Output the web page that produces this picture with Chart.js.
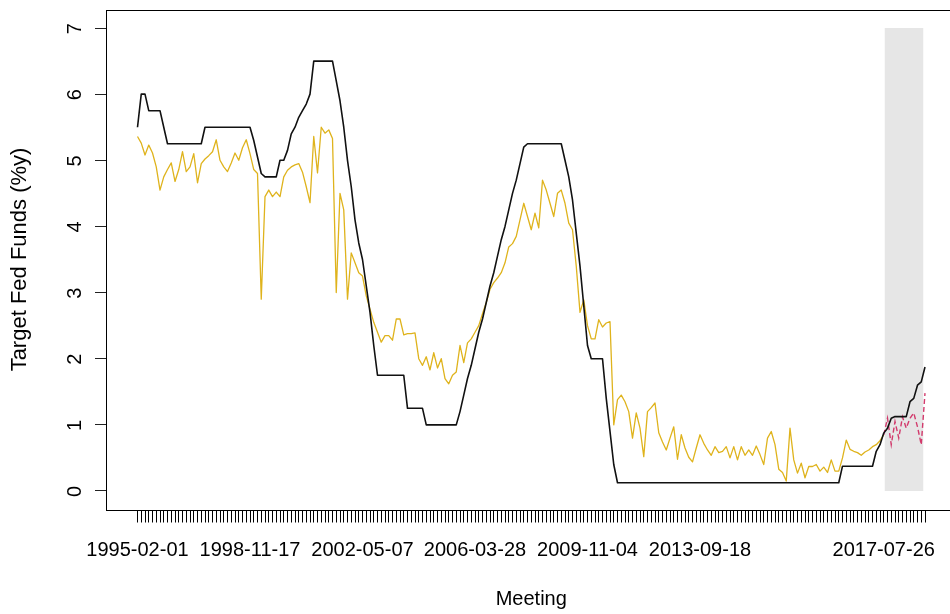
<!DOCTYPE html>
<html>
<head>
  <meta charset="UTF-8">
  <title>Target Fed Funds</title>
  <script src="https://cdn.jsdelivr.net/npm/chart.js"></script>
  <style>
    html, body { margin: 0; padding: 0; background: #fff; overflow: hidden; }
    #caja { width: 960px; height: 614px; }
  </style>
</head>
<body>
  <div id="caja"><canvas id="grafico"></canvas></div>

  <script>
    // tasa objetivo (linea negra), una por reunion
    const objetivo = [
      5.5, 6.0, 6.0, 5.75, 5.75, 5.75, 5.75, 5.5, 5.25,
      5.25, 5.25, 5.25, 5.25, 5.25, 5.25, 5.25, 5.25, 5.25,
      5.5, 5.5, 5.5, 5.5, 5.5, 5.5, 5.5, 5.5, 5.5, 5.5, 5.5, 5.5, 5.5,
      5.3, 5.05, 4.8, 4.75, 4.75, 4.75, 4.75,
      5.0, 5.0, 5.15, 5.4, 5.5, 5.65, 5.75, 5.85, 6.0,
      6.5, 6.5, 6.5, 6.5, 6.5, 6.5,
      6.2, 5.9, 5.5, 5.0, 4.6, 4.1, 3.75, 3.5, 3.1, 2.7, 2.2,
      1.75, 1.75, 1.75, 1.75, 1.75, 1.75, 1.75, 1.75,
      1.25, 1.25, 1.25, 1.25, 1.25,
      1.0, 1.0, 1.0, 1.0, 1.0, 1.0, 1.0, 1.0, 1.0,
      1.2, 1.45, 1.7, 1.9, 2.15, 2.4, 2.6, 2.85, 3.1, 3.3, 3.55, 3.8, 4.0, 4.25, 4.5, 4.7, 4.95, 5.2,
      5.25, 5.25, 5.25, 5.25, 5.25, 5.25, 5.25, 5.25, 5.25, 5.25,
      5.0, 4.75, 4.4, 3.9, 3.4, 2.8, 2.2,
      2.0, 2.0, 2.0, 2.0,
      1.4, 0.9, 0.4,
      0.125, 0.125, 0.125, 0.125, 0.125, 0.125, 0.125, 0.125, 0.125, 0.125,
      0.125, 0.125, 0.125, 0.125, 0.125, 0.125, 0.125, 0.125, 0.125, 0.125,
      0.125, 0.125, 0.125, 0.125, 0.125, 0.125, 0.125, 0.125, 0.125, 0.125,
      0.125, 0.125, 0.125, 0.125, 0.125, 0.125, 0.125, 0.125, 0.125, 0.125,
      0.125, 0.125, 0.125, 0.125, 0.125, 0.125, 0.125, 0.125, 0.125, 0.125,
      0.125, 0.125, 0.125, 0.125, 0.125, 0.125, 0.125, 0.125, 0.125, 0.125,
      0.375, 0.375, 0.375, 0.375, 0.375, 0.375, 0.375, 0.375, 0.375,
      0.6, 0.7, 0.875, 0.95, 1.1,
      1.125, 1.125, 1.125, 1.125,
      1.35, 1.4, 1.6, 1.65, 1.875
    ];

    // estimacion del modelo (linea amarilla)
    const estimado = [
      5.36, 5.26, 5.08, 5.23, 5.11, 4.9, 4.55, 4.75, 4.86, 4.96,
      4.68, 4.86, 5.13, 4.83, 4.9, 5.1, 4.66, 4.95, 5.02, 5.07,
      5.13, 5.31, 5.0, 4.9, 4.83, 4.96, 5.11, 5.0, 5.19, 5.31,
      5.1, 4.86, 4.8, 2.9, 4.45, 4.55, 4.45, 4.52, 4.45, 4.75,
      4.85, 4.9, 4.93, 4.95, 4.82, 4.6, 4.36, 5.36, 4.81, 5.5,
      5.41, 5.46, 5.33, 3.0, 4.5, 4.25, 2.9, 3.6, 3.45, 3.3,
      3.25, 2.95, 2.75, 2.55, 2.4, 2.25, 2.35, 2.35, 2.28, 2.6,
      2.6, 2.36, 2.38, 2.38, 2.39, 2.0, 1.9, 2.03, 1.83, 2.09,
      1.86, 2.0, 1.7, 1.62, 1.75, 1.8, 2.2, 1.94, 2.24, 2.3,
      2.4, 2.5, 2.68, 2.85, 3.05, 3.15, 3.22, 3.3, 3.45, 3.69,
      3.74, 3.85, 4.1, 4.35, 4.15, 3.95, 4.2, 3.98, 4.7, 4.55,
      4.35, 4.15, 4.5, 4.55, 4.35, 4.05, 3.95, 3.4, 2.7, 2.89,
      2.5, 2.3, 2.3, 2.59, 2.48, 2.54, 2.56, 1.0, 1.38, 1.45,
      1.35, 1.2, 0.8, 1.18, 0.95, 0.52, 1.2, 1.26, 1.33, 0.88,
      0.74, 0.62, 0.8, 0.97, 0.48, 0.85, 0.65, 0.51, 0.44, 0.65,
      0.85, 0.72, 0.62, 0.54, 0.67, 0.58, 0.6, 0.67, 0.5, 0.67,
      0.47, 0.67, 0.54, 0.62, 0.54, 0.68, 0.55, 0.4, 0.8, 0.9,
      0.7, 0.33, 0.28, 0.15, 0.95, 0.47, 0.27, 0.42, 0.2, 0.37,
      0.37, 0.4, 0.3, 0.36, 0.28, 0.47, 0.3, 0.3, 0.5, 0.77,
      0.63, 0.6, 0.58, 0.54, 0.59, 0.62, 0.67, 0.7, 0.76, 0.85
    ];

    // pronostico (linea roja punteada), empieza en la reunion 199
    const inicioPronostico = 199;
    const pronostico = [0.85, 1.1, 0.7, 1.05, 0.8, 1.12, 0.95, 1.1, 1.18, 0.97, 0.7, 1.48];

    // etiquetas del eje x
    const indicesEtiqueta = [0, 30, 60, 90, 120, 150, 199];
    const fechasEtiqueta = ['1995-02-01', '1998-11-17', '2002-05-07', '2006-03-28', '2009-11-04', '2013-09-18', '2017-07-26'];

    // zona sombreada
    const sombraDesde = 199.2;
    const sombraHasta = 209.6;
    const sombraTope = 7;

    const ticksY = [0, 1, 2, 3, 4, 5, 6, 7];

    const n = objetivo.length;
    const margenX = (n - 1) * 0.04;
    const margenY = 7 * 0.04;

    Chart.defaults.font.family = '"Liberation Sans", Arial, sans-serif';
    Chart.defaults.color = '#000';

    const caja = {
      id: 'caja',
      afterDraw(chart) {
        const { ctx, chartArea: a } = chart;
        ctx.save();
        ctx.strokeStyle = '#000';
        ctx.lineWidth = 1;
        ctx.strokeRect(Math.round(a.left) + 0.5, Math.round(a.top) + 0.5, a.right - a.left, Math.round(a.bottom - a.top));
        ctx.restore();
      }
    };

    new Chart(document.getElementById('grafico'), {
      type: 'line',
      data: {
        datasets: [
          {
            data: objetivo.map((v, i) => ({ x: i, y: v })),
            borderColor: '#111',
            borderWidth: 1.6,
            pointRadius: 0,
            borderJoinStyle: 'round',
            order: 1
          },
          {
            data: pronostico.map((v, i) => ({ x: inicioPronostico + i, y: v })),
            borderColor: '#d23a6c',
            borderWidth: 1.4,
            borderDash: [5, 3],
            pointRadius: 0,
            order: 2
          },
          {
            data: estimado.map((v, i) => ({ x: i, y: v })),
            borderColor: '#dfb31c',
            borderWidth: 1.3,
            pointRadius: 0,
            borderJoinStyle: 'round',
            order: 3
          },
          {
            data: [{ x: sombraDesde, y: sombraTope }, { x: sombraHasta, y: sombraTope }],
            borderWidth: 0,
            borderColor: 'rgba(0,0,0,0)',
            backgroundColor: '#e6e6e6',
            fill: 'origin',
            pointRadius: 0,
            order: 4
          }
        ]
      },
      options: {
        animation: false,
        responsive: true,
        maintainAspectRatio: false,
        layout: { padding: { top: 9.5, right: 3.5, left: 0, bottom: 0 } },
        plugins: { legend: { display: false }, tooltip: { enabled: false } },
        scales: {
          x: {
            type: 'linear',
            min: -margenX,
            max: n - 1 + margenX,
            afterBuildTicks: (eje) => { eje.ticks = objetivo.map((v, i) => ({ value: i })); },
            afterFit: (eje) => { eje.height = 104.5; eje.paddingLeft = 0; eje.paddingRight = 0; },
            border: { display: false },
            grid: { drawOnChartArea: false, drawTicks: true, tickLength: 13, color: '#000', lineWidth: 1 },
            ticks: {
              autoSkip: false,
              minRotation: 0,
              maxRotation: 0,
              padding: 15.5,
              font: { size: 20 },
              callback: (valor) => {
                const k = indicesEtiqueta.indexOf(valor);
                return k >= 0 ? fechasEtiqueta[k] : '';
              }
            },
            title: { display: true, text: 'Meeting', font: { size: 20 }, padding: { top: 0, bottom: 2.5 } }
          },
          y: {
            min: -margenY,
            max: 7 + margenY,
            afterBuildTicks: (eje) => { eje.ticks = ticksY.map(v => ({ value: v })); },
            afterFit: (eje) => { eje.width = 106; eje.paddingTop = 0; eje.paddingBottom = 0; },
            border: { display: false },
            grid: { drawOnChartArea: false, drawTicks: true, tickLength: 11, color: '#222', lineWidth: 1 },
            ticks: {
              minRotation: 90,
              maxRotation: 90,
              padding: 20,
              labelOffset: -5,
              font: { size: 20 }
            },
            title: { display: true, text: 'Target Fed Funds (%y)', font: { size: 22 }, padding: { top: 6.3, bottom: 0 } }
          }
        }
      },
      plugins: [caja]
    });
  </script>
</body>
</html>
